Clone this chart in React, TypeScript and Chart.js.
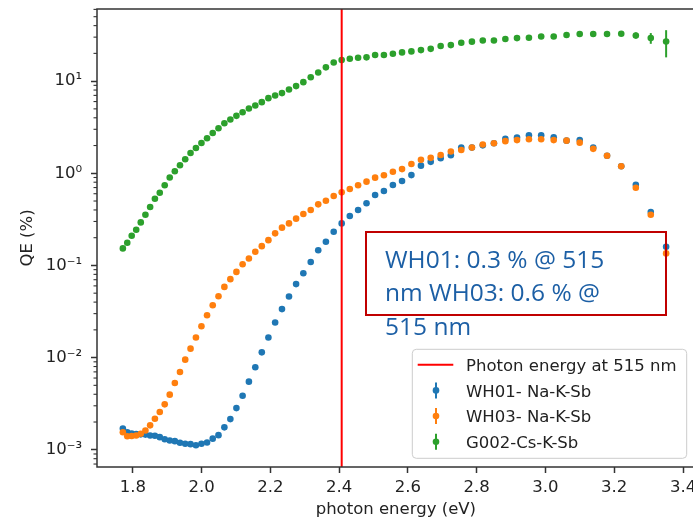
import React, { useEffect, useRef } from 'react';
import { Chart, registerables } from 'chart.js';

Chart.register(...registerables);

// Photon energy (eV) of each measurement point (700 nm ... 370 nm, 5 nm steps)
const photonEnergyEV = [
  1.7712, 1.7840, 1.7969, 1.8100, 1.8233, 1.8368, 1.8505, 1.8644, 1.8785, 1.8929,
  1.9075, 1.9223, 1.9373, 1.9525, 1.9680, 1.9837, 1.9997, 2.0160, 2.0325, 2.0493,
  2.0664, 2.0838, 2.1014, 2.1194, 2.1377, 2.1563, 2.1752, 2.1944, 2.2140, 2.2339,
  2.2543, 2.2749, 2.2960, 2.3175, 2.3393, 2.3616, 2.3843, 2.4075, 2.4311, 2.4552,
  2.4797, 2.5047, 2.5303, 2.5564, 2.5830, 2.6102, 2.6380, 2.6664, 2.6953, 2.7249,
  2.7552, 2.7862, 2.8178, 2.8502, 2.8834, 2.9173, 2.9520, 2.9876, 3.0240, 3.0614,
  3.0996, 3.1389, 3.1791, 3.2204, 3.2628, 3.3063, 3.3509,
];

// QE (%) - WH01- Na-K-Sb
const qeWH01 = [
  1.70e-3, 1.55e-3, 1.50e-3, 1.48e-3, 1.47e-3, 1.46e-3, 1.43e-3, 1.42e-3, 1.37e-3, 1.30e-3,
  1.26e-3, 1.24e-3, 1.19e-3, 1.16e-3, 1.15e-3, 1.12e-3, 1.16e-3, 1.20e-3, 1.32e-3, 1.44e-3,
  1.75e-3, 2.15e-3, 2.83e-3, 3.86e-3, 5.48e-3, 7.85e-3, 0.0114, 0.0165, 0.0240, 0.0336,
  0.0460, 0.0627, 0.0824, 0.109, 0.146, 0.181, 0.232, 0.286, 0.344, 0.399,
  0.472, 0.581, 0.642, 0.747, 0.824, 0.955, 1.21, 1.33, 1.46, 1.57,
  1.90, 1.90, 2.01, 2.12, 2.36, 2.44, 2.59, 2.59, 2.46, 2.26,
  2.30, 1.90, 1.55, 1.19, 0.75, 0.38, 0.159,
];

// QE (%) - WH03- Na-K-Sb
const qeWH03 = [
  1.55e-3, 1.40e-3, 1.41e-3, 1.43e-3, 1.49e-3, 1.62e-3, 1.84e-3, 2.17e-3, 2.57e-3, 3.11e-3,
  3.96e-3, 5.30e-3, 6.97e-3, 9.50e-3, 0.0125, 0.0165, 0.0219, 0.0288, 0.0370, 0.0463,
  0.0585, 0.0710, 0.0851, 0.103, 0.119, 0.141, 0.162, 0.188, 0.223, 0.257,
  0.286, 0.322, 0.361, 0.399, 0.460, 0.504, 0.566, 0.621, 0.675, 0.741,
  0.811, 0.896, 0.951, 1.04, 1.11, 1.26, 1.40, 1.47, 1.58, 1.72,
  1.79, 1.90, 2.05, 2.12, 2.23, 2.29, 2.34, 2.34, 2.29, 2.26,
  2.15, 1.84, 1.55, 1.19, 0.697, 0.355, 0.135,
];

// QE (%) - G002-Cs-K-Sb
const qeG002 = [
  0.153, 0.176, 0.210, 0.244, 0.293, 0.355, 0.430, 0.530, 0.615, 0.741,
  0.90, 1.05, 1.22, 1.42, 1.66, 1.88, 2.13, 2.40, 2.74, 3.08,
  3.49, 3.83, 4.20, 4.60, 5.04, 5.43, 5.91, 6.53, 6.97, 7.41,
  8.11, 8.83, 9.75, 11.0, 12.4, 14.1, 15.9, 16.9, 17.5, 17.9,
  18.1, 19.2, 19.2, 19.8, 20.5, 21.0, 21.7, 22.4, 24.0, 24.6,
  26.1, 26.8, 27.6, 27.6, 28.6, 29.3, 29.6, 30.5, 30.5, 31.6,
  32.4, 32.4, 32.4, 32.7, 31.3, 29.3, 26.9,
];

// QE error (%) - G002-Cs-K-Sb
const errG002 = [
  0, 0, 0, 0, 0, 0, 0, 0, 0, 0,
  0, 0, 0, 0, 0, 0, 0, 0, 0, 0,
  0, 0, 0, 0, 0, 0, 0, 0, 0, 0,
  0, 0, 0, 0, 0, 0, 0, 0, 0, 0,
  0, 0, 0, 0, 0, 0, 0, 0, 0, 0,
  0, 0, 0, 0, 0, 0, 0, 0, 0, 0,
  0.6, 0.8, 1.0, 1.8, 2.4, 3.9, 8.8,
];

const photonEnergy515nm = 2.4075;

const seriesLabels = ['WH01- Na-K-Sb', 'WH03- Na-K-Sb', 'G002-Cs-K-Sb'];
const lineLabel = 'Photon energy at 515 nm';

const xTickValues = [1.8, 2.0, 2.2, 2.4, 2.6, 2.8, 3.0, 3.2, 3.4];
const xTickLabels = ['1.8', '2.0', '2.2', '2.4', '2.6', '2.8', '3.0', '3.2', '3.4'];
const yTickValues = [1e-3, 1e-2, 1e-1, 1, 10];
const yTickLabels = ['10\u207B\u00B3', '10\u207B\u00B2', '10\u207B\u00B9', '10\u2070', '10\u00B9'];
const yMinorDecades = [1e-4, 1e-3, 1e-2, 1e-1, 1, 10];
const yMinorMultipliers = [2, 3, 4, 5, 6, 7, 8, 9];

const X_MIN = 1.696;
const X_MAX = 3.434;
const Y_MIN = 6.5e-4;
const Y_MAX = 60.6;

const FONT = 'DejaVu Sans';
const TEXT = '#222222';
const AXIS = '#333333';

const errorBarPlugin = {
  id: 'errorBars',
  beforeDatasetsDraw(chart: any) {
    const { ctx } = chart;
    const xs = chart.scales.x;
    const ys = chart.scales.y;
    ctx.save();
    chart.data.datasets.forEach((ds: any) => {
      if (!ds.errors) return;
      ctx.strokeStyle = ds.backgroundColor;
      ctx.lineWidth = 2;
      ds.data.forEach((p: any, i: number) => {
        const e = ds.errors[i];
        if (!e) return;
        const px = xs.getPixelForValue(p.x);
        ctx.beginPath();
        ctx.moveTo(px, ys.getPixelForValue(p.y - e));
        ctx.lineTo(px, ys.getPixelForValue(p.y + e));
        ctx.stroke();
      });
    });
    ctx.restore();
  },
};

const framePlugin = {
  id: 'frameAndMinor',
  afterDraw(chart: any) {
    const { ctx, chartArea } = chart;
    const ys = chart.scales.y;
    ctx.save();
    ctx.strokeStyle = AXIS;
    ctx.lineWidth = 1.5;
    ctx.strokeRect(chartArea.left, chartArea.top, chartArea.right - chartArea.left, chartArea.bottom - chartArea.top);
    ctx.lineWidth = 1.1;
    yMinorDecades.forEach((d) => {
      yMinorMultipliers.forEach((m) => {
        const v = d * m;
        if (v < Y_MIN || v > Y_MAX) return;
        const py = ys.getPixelForValue(v);
        ctx.beginPath();
        ctx.moveTo(chartArea.left, py);
        ctx.lineTo(chartArea.left - 3.5, py);
        ctx.stroke();
      });
    });
    ctx.restore();
  },
};

const legendPlugin = {
  id: 'mplLegend',
  afterDraw(chart: any) {
    const { ctx, chartArea } = chart;
    const w = 274.4;
    const h = 109;
    const x0 = chartArea.right - 8 - w;
    const y0 = chartArea.bottom - 8.7 - h;
    ctx.save();
    ctx.beginPath();
    ctx.roundRect(x0, y0, w, h, 4);
    ctx.fillStyle = 'rgba(255,255,255,0.8)';
    ctx.fill();
    ctx.strokeStyle = '#cccccc';
    ctx.lineWidth = 1;
    ctx.stroke();
    ctx.font = `16.5px "${FONT}"`;
    ctx.textBaseline = 'alphabetic';
    ctx.textAlign = 'left';
    chart.data.datasets.forEach((ds: any, i: number) => {
      const cy = y0 + 15.4 + i * 25.7;
      if (ds.type === 'line') {
        ctx.strokeStyle = ds.borderColor;
        ctx.lineWidth = 2;
        ctx.beginPath();
        ctx.moveTo(x0 + 5.4, cy);
        ctx.lineTo(x0 + 41, cy);
        ctx.stroke();
      } else {
        const cx = x0 + 23.7;
        ctx.strokeStyle = ds.backgroundColor;
        ctx.lineWidth = 2;
        ctx.beginPath();
        ctx.moveTo(cx, cy - 8);
        ctx.lineTo(cx, cy + 8);
        ctx.stroke();
        ctx.fillStyle = ds.backgroundColor;
        ctx.beginPath();
        ctx.arc(cx, cy, 3.3, 0, Math.PI * 2);
        ctx.fill();
      }
      ctx.fillStyle = TEXT;
      ctx.fillText(ds.label, x0 + 53.7, cy + 6.3);
    });
    ctx.restore();
  },
};

function pts(ys: number[]) {
  return photonEnergyEV.map((x, i) => ({ x, y: ys[i] }));
}

export default function App() {
  const ref = useRef<HTMLCanvasElement>(null);

  useEffect(() => {
    if (!ref.current) return;
    const scatterCommon = {
      type: 'scatter' as const,
      pointRadius: 3.3,
      pointHoverRadius: 3.3,
      pointBorderWidth: 0,
      showLine: false,
    };
    const chart = new Chart(ref.current, {
      type: 'scatter',
      data: {
        datasets: [
          {
            type: 'line',
            label: lineLabel,
            data: [
              { x: photonEnergy515nm, y: Y_MIN },
              { x: photonEnergy515nm, y: Y_MAX },
            ],
            borderColor: '#ff0000',
            backgroundColor: '#ff0000',
            borderWidth: 2,
            pointRadius: 0,
            order: 0,
          } as any,
          {
            ...scatterCommon,
            label: seriesLabels[0],
            data: pts(qeWH01),
            backgroundColor: '#1f77b4',
            borderColor: '#1f77b4',
            order: 3,
          } as any,
          {
            ...scatterCommon,
            label: seriesLabels[1],
            data: pts(qeWH03),
            backgroundColor: '#ff7f0e',
            borderColor: '#ff7f0e',
            order: 2,
          } as any,
          {
            ...scatterCommon,
            label: seriesLabels[2],
            data: pts(qeG002),
            errors: errG002,
            backgroundColor: '#2ca02c',
            borderColor: '#2ca02c',
            order: 1,
          } as any,
        ],
      },
      options: {
        responsive: false,
        maintainAspectRatio: false,
        devicePixelRatio: 1,
        animation: false,
        events: [],
        layout: { padding: { top: 9, right: 5.3, left: 0, bottom: 0 } },
        plugins: {
          legend: { display: false },
          tooltip: { enabled: false },
        },
        scales: {
          x: {
            type: 'linear',
            min: X_MIN,
            max: X_MAX,
            afterBuildTicks: (scale: any) => {
              scale.ticks = xTickValues.map((v) => ({ value: v }));
            },
            afterFit: (scale: any) => {
              scale.height = 54;
              scale.paddingLeft = 0;
              scale.paddingRight = 0;
            },
            ticks: {
              autoSkip: false,
              maxRotation: 0,
              padding: 5,
              color: TEXT,
              font: { family: FONT, size: 16.5 },
              callback: (_v: any, i: number) => xTickLabels[i],
            },
            grid: {
              display: true,
              drawOnChartArea: false,
              drawTicks: true,
              tickLength: 6,
              tickWidth: 1.5,
              tickColor: AXIS,
            },
            border: { display: false },
            title: {
              display: true,
              text: 'photon energy (eV)',
              color: TEXT,
              font: { family: FONT, size: 16.5 },
              padding: { top: 4, bottom: 1 },
            },
          },
          y: {
            type: 'logarithmic',
            min: Y_MIN,
            max: Y_MAX,
            afterBuildTicks: (scale: any) => {
              scale.ticks = yTickValues.map((v) => ({ value: v }));
            },
            afterFit: (scale: any) => {
              scale.width = 97;
              scale.paddingTop = 0;
              scale.paddingBottom = 0;
            },
            ticks: {
              autoSkip: false,
              padding: 9,
              color: TEXT,
              font: { family: FONT, size: 16.5 },
              callback: (_v: any, i: number) => yTickLabels[i],
            },
            grid: {
              display: true,
              drawOnChartArea: false,
              drawTicks: true,
              tickLength: 6,
              tickWidth: 1.5,
              tickColor: AXIS,
            },
            border: { display: false },
            title: {
              display: true,
              text: 'QE (%)',
              color: TEXT,
              font: { family: FONT, size: 16.5 },
              padding: { top: 18, bottom: 0 },
            },
          },
        },
      } as any,
      plugins: [errorBarPlugin, framePlugin, legendPlugin],
    });
    return () => chart.destroy();
  }, []);

  return (
    <div
      style={{
        position: 'fixed',
        left: 0,
        top: 0,
        width: 693,
        height: 521,
        overflow: 'hidden',
        background: '#ffffff',
      }}
    >
      <canvas
        ref={ref}
        width={700}
        height={521}
        style={{ position: 'absolute', left: 0, top: 0, width: 700, height: 521 }}
      />
      <div
        style={{
          position: 'absolute',
          left: 365,
          top: 231,
          width: 302,
          height: 85,
          border: '2px solid #c00000',
          boxSizing: 'border-box',
        }}
      />
      <div
        style={{
          position: 'absolute',
          left: 385,
          top: 242,
          fontFamily: '"Open Sans", sans-serif',
          fontSize: 24.5,
          lineHeight: '33.3px',
          color: '#1c5fa5',
          whiteSpace: 'nowrap',
        }}
      >
        <div>WH01: 0.3 % @ 515</div>
        <div>nm WH03: 0.6 % @</div>
        <div>515 nm</div>
      </div>
    </div>
  );
}
